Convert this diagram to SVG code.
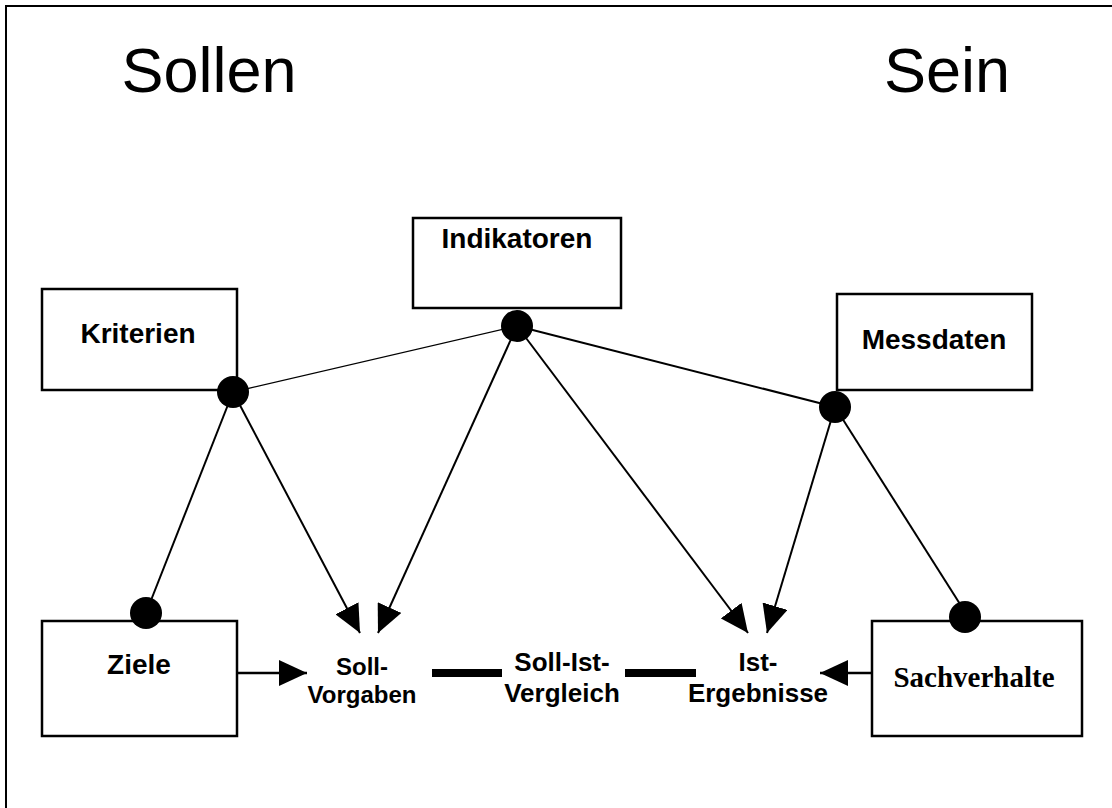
<svg xmlns="http://www.w3.org/2000/svg" width="1112" height="808" viewBox="0 0 1112 808">
<style>
.box{fill:#fff;stroke:#000;stroke-width:2.5}
.lbl{font-family:"Liberation Sans",Arial,sans-serif;font-weight:bold;font-size:28px;text-anchor:middle;fill:#000}
.sm{font-family:"Liberation Sans",Arial,sans-serif;font-weight:bold;font-size:24px;text-anchor:middle;fill:#000}
.title{font-family:"Liberation Sans",Arial,sans-serif;font-size:63px;text-anchor:middle;fill:#000}
.ln{stroke:#000;stroke-width:2;fill:none}
.dot{fill:#000}
</style>
<defs>
<marker id="ah" markerUnits="userSpaceOnUse" markerWidth="28" markerHeight="26" refX="28" refY="13" orient="auto">
<path d="M0,0 L28,13 L0,26 z" fill="#000"/>
</marker>
</defs>
<rect x="6" y="6" width="1130" height="830" fill="#fff" stroke="#000" stroke-width="2"/>
<text class="title" x="209" y="92">Sollen</text>
<text class="title" x="947" y="92">Sein</text>
<g id="connectors">
<line class="ln" x1="233" y1="392" x2="517" y2="326" style="stroke-width:1.3"/>
<line class="ln" x1="517" y1="326" x2="835" y2="407"/>
<line class="ln" x1="233" y1="392" x2="146" y2="613"/>
<line class="ln" x1="233" y1="392" x2="360" y2="633" marker-end="url(#ah)"/>
<line class="ln" x1="517" y1="326" x2="378" y2="633" marker-end="url(#ah)"/>
<line class="ln" x1="517" y1="326" x2="748" y2="633" marker-end="url(#ah)"/>
<line class="ln" x1="835" y1="407" x2="767" y2="633" marker-end="url(#ah)"/>
<line class="ln" x1="835" y1="407" x2="979" y2="634"/>
<line class="ln" x1="237" y1="673" x2="307" y2="673" marker-end="url(#ah)" style="stroke-width:2.5"/>
<line class="ln" x1="872" y1="673" x2="820" y2="673" marker-end="url(#ah)" style="stroke-width:2.5"/>
<line class="ln" x1="432" y1="673" x2="502" y2="673" style="stroke-width:8"/>
<line class="ln" x1="625" y1="673" x2="696" y2="673" style="stroke-width:8"/>
</g>
<g id="kriterien">
<rect class="box" x="42" y="289" width="195" height="101"/>
<text class="lbl" x="138" y="343">Kriterien</text>
<circle class="dot" cx="233" cy="392" r="16"/>
</g>
<g id="indikatoren">
<rect class="box" x="413" y="218" width="208" height="90"/>
<text class="lbl" x="517" y="248">Indikatoren</text>
<circle class="dot" cx="517" cy="326" r="16"/>
</g>
<g id="messdaten">
<rect class="box" x="837" y="294" width="195" height="96"/>
<text class="lbl" x="934" y="349">Messdaten</text>
<circle class="dot" cx="835" cy="407" r="16"/>
</g>
<g id="ziele">
<rect class="box" x="42" y="621" width="195" height="115"/>
<text class="lbl" x="139" y="674">Ziele</text>
<circle class="dot" cx="146" cy="613" r="16"/>
</g>
<g id="sachverhalte">
<rect class="box" x="872" y="621" width="210" height="115"/>
<text x="974" y="687" style="font-family:'Liberation Serif','Times New Roman',serif;font-weight:bold;font-size:29px;text-anchor:middle">Sachverhalte</text>
<circle class="dot" cx="965" cy="617" r="16"/>
</g>
<g id="soll-vorgaben">
<text class="sm" x="362" y="675">Soll-</text>
<text class="sm" x="362" y="703">Vorgaben</text>
</g>
<g id="soll-ist-vergleich">
<text class="sm" x="562" y="671" style="font-size:26px">Soll-Ist-</text>
<text class="sm" x="562" y="702" style="font-size:26px">Vergleich</text>
</g>
<g id="ist-ergebnisse">
<text class="sm" x="758" y="671" style="font-size:26px">Ist-</text>
<text class="sm" x="758" y="702" style="font-size:26px">Ergebnisse</text>
</g>
</svg>
